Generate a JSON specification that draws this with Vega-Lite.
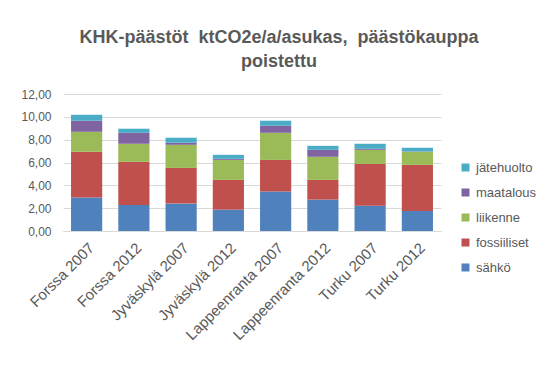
{
  "$schema": "https://vega.github.io/schema/vega-lite/v6.json",
  "autosize": "none",
  "width": 378,
  "height": 137,
  "padding": {"left": 63, "top": 94, "right": 113, "bottom": 137},
  "background": "white",
  "title": {
    "text": ["KHK-päästöt \u00a0ktCO2e/a/asukas, \u00a0päästökauppa", "poistettu"],
    "font": "Liberation Sans",
    "fontSize": 18,
    "fontWeight": "bold",
    "color": "#595959",
    "anchor": "middle",
    "dx": 27,
    "offset": 17,
    "lineHeight": 24
  },
  "data": {
    "values": [
      {"kunta": "Forssa 2007", "sektori": "sähkö", "arvo": 2.93, "k": 1},
      {"kunta": "Forssa 2007", "sektori": "fossiiliset", "arvo": 4.01, "k": 2},
      {"kunta": "Forssa 2007", "sektori": "liikenne", "arvo": 1.75, "k": 3},
      {"kunta": "Forssa 2007", "sektori": "maatalous", "arvo": 0.97, "k": 4},
      {"kunta": "Forssa 2007", "sektori": "jätehuolto", "arvo": 0.52, "k": 5},
      {"kunta": "Forssa 2012", "sektori": "sähkö", "arvo": 2.28, "k": 1},
      {"kunta": "Forssa 2012", "sektori": "fossiiliset", "arvo": 3.78, "k": 2},
      {"kunta": "Forssa 2012", "sektori": "liikenne", "arvo": 1.58, "k": 3},
      {"kunta": "Forssa 2012", "sektori": "maatalous", "arvo": 0.96, "k": 4},
      {"kunta": "Forssa 2012", "sektori": "jätehuolto", "arvo": 0.36, "k": 5},
      {"kunta": "Jyväskylä 2007", "sektori": "sähkö", "arvo": 2.40, "k": 1},
      {"kunta": "Jyväskylä 2007", "sektori": "fossiiliset", "arvo": 3.13, "k": 2},
      {"kunta": "Jyväskylä 2007", "sektori": "liikenne", "arvo": 2.02, "k": 3},
      {"kunta": "Jyväskylä 2007", "sektori": "maatalous", "arvo": 0.18, "k": 4},
      {"kunta": "Jyväskylä 2007", "sektori": "jätehuolto", "arvo": 0.44, "k": 5},
      {"kunta": "Jyväskylä 2012", "sektori": "sähkö", "arvo": 1.87, "k": 1},
      {"kunta": "Jyväskylä 2012", "sektori": "fossiiliset", "arvo": 2.61, "k": 2},
      {"kunta": "Jyväskylä 2012", "sektori": "liikenne", "arvo": 1.75, "k": 3},
      {"kunta": "Jyväskylä 2012", "sektori": "maatalous", "arvo": 0.09, "k": 4},
      {"kunta": "Jyväskylä 2012", "sektori": "jätehuolto", "arvo": 0.35, "k": 5},
      {"kunta": "Lappeenranta 2007", "sektori": "sähkö", "arvo": 3.45, "k": 1},
      {"kunta": "Lappeenranta 2007", "sektori": "fossiiliset", "arvo": 2.78, "k": 2},
      {"kunta": "Lappeenranta 2007", "sektori": "liikenne", "arvo": 2.37, "k": 3},
      {"kunta": "Lappeenranta 2007", "sektori": "maatalous", "arvo": 0.62, "k": 4},
      {"kunta": "Lappeenranta 2007", "sektori": "jätehuolto", "arvo": 0.44, "k": 5},
      {"kunta": "Lappeenranta 2012", "sektori": "sähkö", "arvo": 2.75, "k": 1},
      {"kunta": "Lappeenranta 2012", "sektori": "fossiiliset", "arvo": 1.73, "k": 2},
      {"kunta": "Lappeenranta 2012", "sektori": "liikenne", "arvo": 2.02, "k": 3},
      {"kunta": "Lappeenranta 2012", "sektori": "maatalous", "arvo": 0.61, "k": 4},
      {"kunta": "Lappeenranta 2012", "sektori": "jätehuolto", "arvo": 0.35, "k": 5},
      {"kunta": "Turku 2007", "sektori": "sähkö", "arvo": 2.22, "k": 1},
      {"kunta": "Turku 2007", "sektori": "fossiiliset", "arvo": 3.66, "k": 2},
      {"kunta": "Turku 2007", "sektori": "liikenne", "arvo": 1.23, "k": 3},
      {"kunta": "Turku 2007", "sektori": "maatalous", "arvo": 0.09, "k": 4},
      {"kunta": "Turku 2007", "sektori": "jätehuolto", "arvo": 0.44, "k": 5},
      {"kunta": "Turku 2012", "sektori": "sähkö", "arvo": 1.76, "k": 1},
      {"kunta": "Turku 2012", "sektori": "fossiiliset", "arvo": 4.03, "k": 2},
      {"kunta": "Turku 2012", "sektori": "liikenne", "arvo": 1.15, "k": 3},
      {"kunta": "Turku 2012", "sektori": "maatalous", "arvo": 0.03, "k": 4},
      {"kunta": "Turku 2012", "sektori": "jätehuolto", "arvo": 0.32, "k": 5}
    ]
  },
  "mark": {"type": "bar"},
  "encoding": {
    "x": {
      "field": "kunta",
      "type": "nominal",
      "sort": null,
      "scale": {"paddingInner": 0.34, "paddingOuter": 0.17},
      "axis": {
        "title": null,
        "labelAngle": -45,
        "labelFont": "Liberation Sans",
        "labelFontSize": 15,
        "labelColor": "#595959",
        "labelPadding": 9,
        "ticks": false,
        "domainColor": "#d9d9d9",
        "domainWidth": 1,
        "grid": false
      }
    },
    "y": {
      "field": "arvo",
      "type": "quantitative",
      "stack": "zero",
      "scale": {"domain": [0, 12], "nice": false},
      "axis": {
        "title": null,
        "values": [0, 2, 4, 6, 8, 10, 12],
        "labelExpr": "replace(format(datum.value, '.2f'), '.', ',')",
        "labelFont": "Liberation Sans",
        "labelFontSize": 12,
        "labelColor": "#595959",
        "labelPadding": 12,
        "ticks": false,
        "domain": false,
        "gridColor": "#d9d9d9",
        "gridWidth": 1
      }
    },
    "color": {
      "field": "sektori",
      "type": "nominal",
      "scale": {
        "domain": ["jätehuolto", "maatalous", "liikenne", "fossiiliset", "sähkö"],
        "range": ["#4BACC6", "#8064A2", "#9BBB59", "#C0504D", "#4F81BD"]
      },
      "legend": {
        "title": null,
        "orient": "none",
        "legendX": 396,
        "legendY": 67,
        "symbolType": "square",
        "symbolSize": 64,
        "symbolStrokeWidth": 0,
        "symbolOpacity": 1,
        "labelFont": "Liberation Sans",
        "labelFontSize": 13,
        "labelColor": "#595959",
        "labelOffset": 4,
        "rowPadding": 11
      }
    },
    "order": {"field": "k", "type": "quantitative", "sort": "ascending"}
  },
  "config": {
    "view": {"stroke": null}
  }
}
